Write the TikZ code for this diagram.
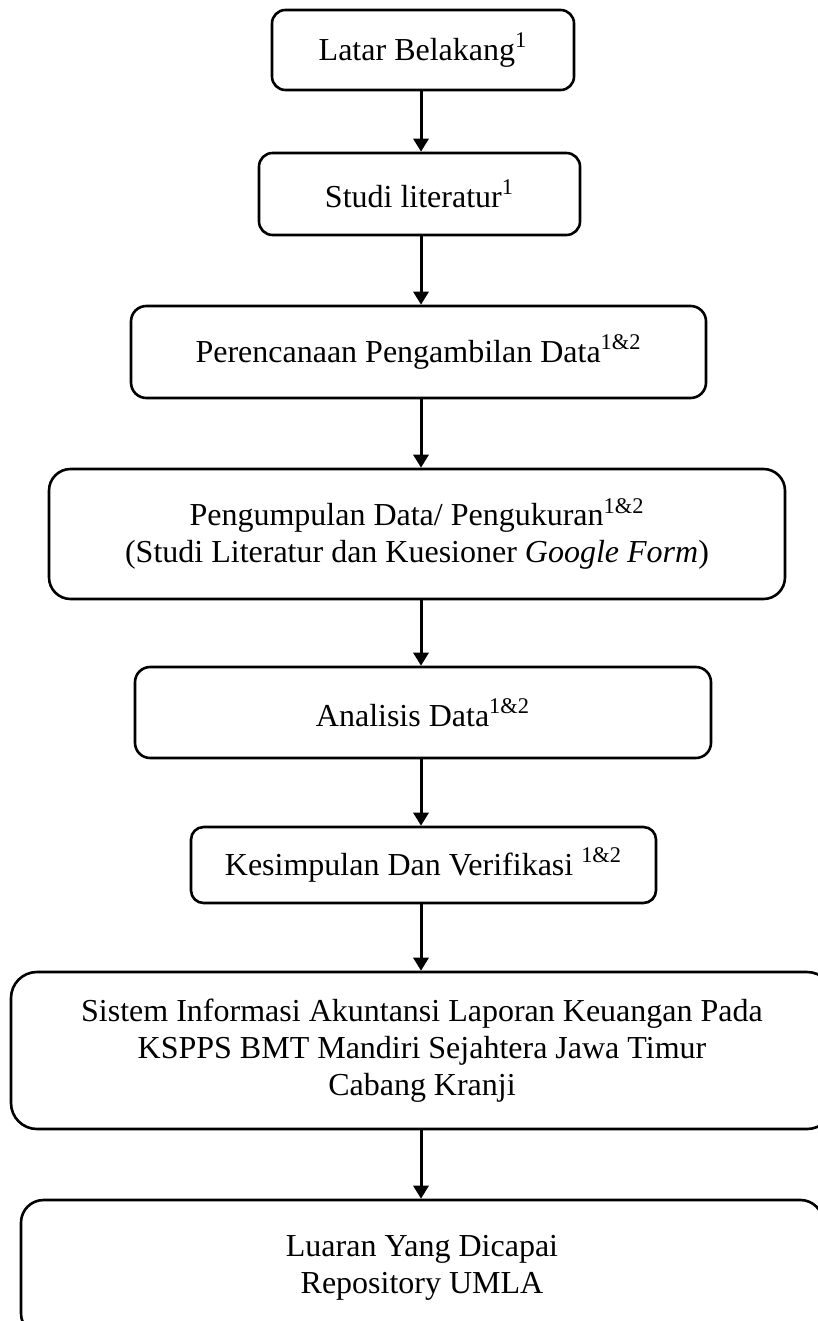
\documentclass[tikz,border=0pt]{standalone}
\usepackage{fontspec}
\setmainfont{Liberation Serif}
\usetikzlibrary{arrows.meta}
\usetikzlibrary{calc}
\tikzstyle{stepbox}=[draw=black, line width=1.3pt, fill=white, align=center, inner sep=0pt, font=\fontsize{16}{18.5}\selectfont]
\tikzstyle{edge} = [draw, line width=1.5pt, -{Triangle[width=7.5pt,length=6.5pt]}]

\begin{document}
\begin{tikzpicture}[x=0.5pt, y=-0.5pt]

  \useasboundingbox (0,0) rectangle (818,1321);
  \coordinate (spine) at (421, 0);

  % boxes: name / centre x / centre y / width (pt) / height (pt) / corner (pt) / text
  \foreach \name/\px/\py/\bw/\bh/\rc/\txt in {
      latar/423/50/151/40/6.7/{Latar Belakang\textsuperscript{1}},
      studi/419.5/194/160.5/41/6.8/{Studi literatur\textsuperscript{1}},
      rencana/418.5/352/287.5/46/7.7/{Perencanaan Pengambilan Data\textsuperscript{1\&2}},
      kumpul/417/534/368/65/10.8/{Pengumpulan Data/ Pengukuran\textsuperscript{1\&2}\\(Studi Literatur dan Kuesioner \textit{Google Form})},
      analisis/423/712.5/288/45.5/7.6/{Analisis Data\textsuperscript{1\&2}},
      simpulan/423.5/865/232.5/38/6.3/{Kesimpulan Dan Verifikasi \textsuperscript{1\&2}},
      sistem/422/1050.5/411/78.5/13/{Sistem Informasi Akuntansi Laporan Keuangan Pada\\KSPPS BMT Mandiri Sejahtera Jawa Timur\\Cabang Kranji},
      luaran/422/1268/401/68/11.3/{Luaran Yang Dicapai\\Repository UMLA}}
    \node[stepbox, minimum width=\bw pt, minimum height=\bh pt, rounded corners=\rc pt] (\name) at (\px, \py) {\txt};

  \foreach \source/\dest in {latar/studi, studi/rencana, rencana/kumpul, kumpul/analisis, analisis/simpulan, simpulan/sistem, sistem/luaran}
    \draw[edge] (\source.south -| spine) -- (\dest.north -| spine);

\end{tikzpicture}
\end{document}
